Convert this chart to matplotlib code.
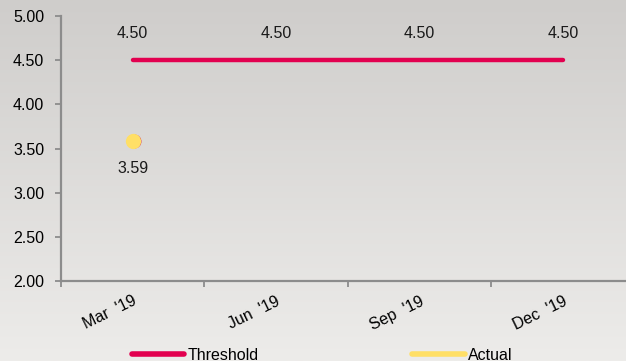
import numpy as np
import matplotlib.pyplot as plt
from matplotlib.lines import Line2D
from matplotlib.transforms import ScaledTranslation

plt.rcParams['font.family'] = ['Liberation Sans', 'DejaVu Sans']

quarters = ["Mar  '19", "Jun  '19", "Sep  '19", "Dec  '19"]
threshold = [4.50, 4.50, 4.50, 4.50]
actual = [3.59]
y_ticks = [2.00, 2.50, 3.00, 3.50, 4.00, 4.50, 5.00]

red = '#e2004f'
yellow = '#ffdf66'
axis_grey = '#8c8c8c'
fs = 11.5

fig = plt.figure(figsize=(6.26, 3.61), dpi=100)

# soft vertical gradient behind everything
bg = fig.add_axes([0, 0, 1, 1], zorder=-10)
grad = np.linspace(0, 1, 256).reshape(-1, 1)
top = np.array([207, 205, 203]) / 255
bottom = np.array([237, 236, 234]) / 255
img = top + (bottom - top) * grad[:, :, None]
bg.imshow(img, aspect='auto', extent=[0, 1, 0, 1])
bg.axis('off')

ax = fig.add_axes([61 / 626, 80 / 361, 1 - 61 / 626, 265 / 361])
ax.patch.set_alpha(0)

x = np.arange(len(quarters))
ax.plot(x, threshold, color=red, lw=3.2, solid_capstyle='round', zorder=3)

# thin red shadow peeking out behind the actual marker
shift = ScaledTranslation(1.2 / 100, 0, fig.dpi_scale_trans)
ax.plot(x[:len(actual)], actual, 'o', ms=10, color='#d8263a', mec='none',
        transform=ax.transData + shift, zorder=3)
ax.plot(x[:len(actual)], actual, 'o', ms=11, color=yellow, mec='none', zorder=4)

for xi, v in zip(x, threshold):
    ax.annotate(f'{v:.2f}', (xi, v), xytext=(0, 14), textcoords='offset points',
                ha='center', va='bottom', fontsize=fs, color='#1a1a1a')
for xi, v in zip(x, actual):
    ax.annotate(f'{v:.2f}', (xi, v), xytext=(0, -15), textcoords='offset points',
                ha='center', va='top', fontsize=fs, color='#1a1a1a')

ax.set_ylim(2.0, 5.0)
ax.set_xlim(-0.5, 3.44)
ax.set_yticks(y_ticks)
ax.set_yticklabels([f'{t:.2f}' for t in y_ticks])

# ticks sit on the category boundaries, labels under the centres
ax.set_xticks(x - 0.5)
ax.set_xticklabels([])
ax.set_xticks(x, minor=True)
ax.set_xticklabels(quarters, minor=True, rotation=26, ha='right',
                   rotation_mode='anchor')
ax.tick_params(axis='x', which='minor', length=0, pad=9, labelsize=fs)
ax.tick_params(axis='x', which='major', length=4, width=1.3, color=axis_grey,
               direction='out')
ax.tick_params(axis='y', length=4, width=1.3, color=axis_grey, pad=8,
               labelsize=fs)

for side in ['top', 'right']:
    ax.spines[side].set_visible(False)
for side in ['left', 'bottom']:
    ax.spines[side].set_color(axis_grey)
    ax.spines[side].set_linewidth(1.6)

handles = [Line2D([], [], color=red, lw=4, solid_capstyle='round'),
           Line2D([], [], color=yellow, lw=4, solid_capstyle='round')]
fig.legend(handles, ['Threshold', 'Actual'], loc='center',
           bbox_to_anchor=(322 / 626, 6 / 361), ncol=2, frameon=False,
           fontsize=fs, handlelength=3.3, handletextpad=0.2,
           columnspacing=9.6)

fig.savefig('out.png', dpi=100)
